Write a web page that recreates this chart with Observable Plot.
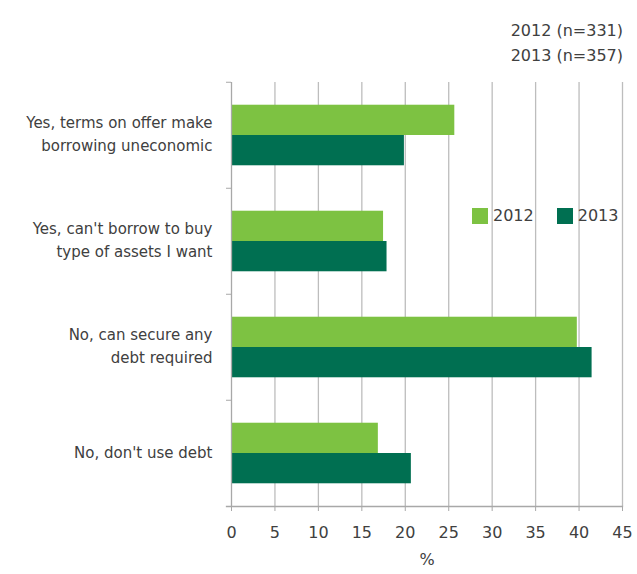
<!DOCTYPE html>
<html><head><meta charset="utf-8">
<script src="https://cdn.jsdelivr.net/npm/d3@7"></script>
<script src="https://cdn.jsdelivr.net/npm/@observablehq/plot@0.6"></script>
<style>
body{margin:0;background:#fff;font-family:"DejaVu Sans",sans-serif;color:#404040}
#wrap{position:relative;width:637px;height:574px}
#wrap svg{position:absolute;left:0;top:0}
.title{position:absolute;right:14px;font-size:16px;line-height:20px;white-space:nowrap}
.legend{position:absolute;top:208px;left:472px;display:flex;align-items:center;font-size:16px;line-height:16px}
.item{display:flex;align-items:center;margin-right:23px}
.sw{width:16px;height:16px;display:inline-block;margin-right:5px}
</style></head><body>
<div id="wrap"></div>
<script>
const categories = [
  "Yes, terms on offer make\nborrowing uneconomic",
  "Yes, can't borrow to buy\ntype of assets I want",
  "No, can secure any\ndebt required",
  "No, don't use debt"
];
const years = ["2012", "2013"];
const values2012 = [25.7, 17.5, 39.8, 16.9];
const values2013 = [19.9, 17.9, 41.5, 20.7];
const sampleSizes = [331, 357];
const colors = ["#7DC242", "#006F51"];
const xTicks = [0, 5, 10, 15, 20, 25, 30, 35, 40, 45];

const rows = [];
categories.forEach((c, i) => {
  rows.push({category: c, year: years[0], value: values2012[i]});
  rows.push({category: c, year: years[1], value: values2013[i]});
});

const axisGray = "#a8a8a8";
const chart = Plot.plot({
  width: 637, height: 574,
  marginTop: 81, marginBottom: 67, marginLeft: 231, marginRight: 15,
  style: {fontFamily: "DejaVu Sans", fontSize: "16px", color: "#404040", background: "white"},
  x: {domain: [0, 45]},
  fy: {domain: categories, padding: 0},
  y: {domain: years, paddingInner: 0, paddingOuter: 0.75, round: false, axis: null},
  color: {domain: years, range: colors},
  marks: [
    Plot.ruleX(xTicks.filter(d => d > 0), {stroke: "#bdbdbd", strokeWidth: 1.3}),
    Plot.barX(rows, {fy: "category", y: "year", x: "value", fill: "year"}),
    Plot.ruleX([0], {stroke: axisGray, strokeWidth: 1.3}),
    Plot.axisFy({anchor: "left", tickSize: 5, tickFormat: () => "", dy: -53.25, stroke: axisGray, label: null}),
    Plot.axisFy({anchor: "left", tickSize: 0, tickPadding: 19, dy: -3, fontSize: 15, lineHeight: 1.53, fill: "#404040", label: null}),
    Plot.axisX({anchor: "bottom", ticks: xTicks, tickSize: 5, tickPadding: 15, stroke: axisGray,
      label: "%", labelAnchor: "center", labelOffset: 58, labelArrow: "none", fill: "#404040"}),
    Plot.frame({anchor: "bottom", insetLeft: -5, stroke: axisGray, strokeWidth: 1.3, facetAnchor: "bottom"})
  ]
});

const wrap = document.getElementById("wrap");
wrap.appendChild(chart);
years.forEach((y, i) => {
  const t = document.createElement("div");
  t.className = "title";
  t.style.top = (21 + i * 25) + "px";
  t.textContent = `${y} (n=${sampleSizes[i]})`;
  wrap.appendChild(t);
});
const leg = document.createElement("div");
leg.className = "legend";
years.forEach((y, i) => {
  const it = document.createElement("span");
  it.className = "item";
  const sw = document.createElement("span");
  sw.className = "sw";
  sw.style.background = colors[i];
  it.appendChild(sw);
  it.appendChild(document.createTextNode(y));
  leg.appendChild(it);
});
wrap.appendChild(leg);
</script>
</body></html>
